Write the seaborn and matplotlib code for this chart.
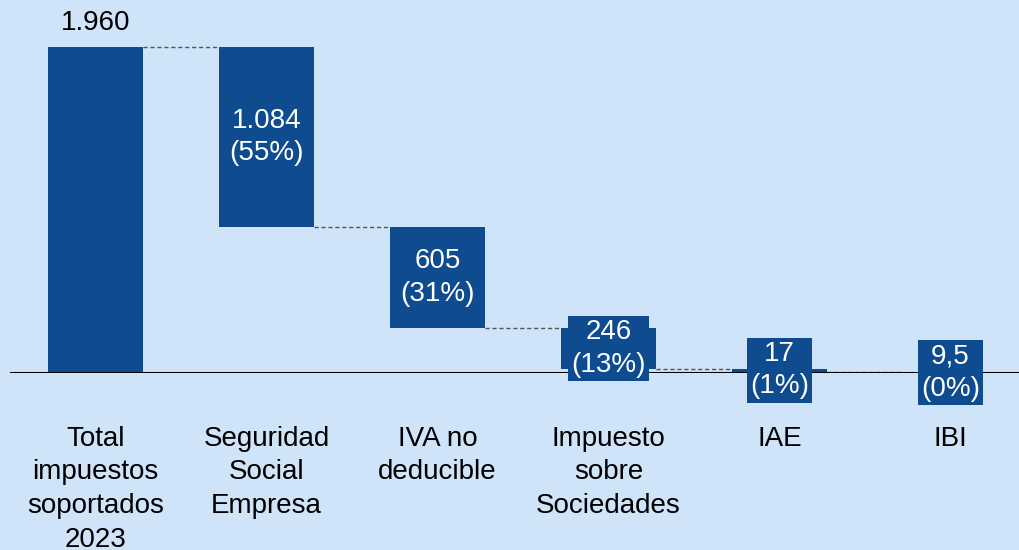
import numpy as np
import pandas as pd
import matplotlib
matplotlib.use("Agg")
import matplotlib.pyplot as plt
import seaborn as sns

sns.set_theme(style="white")
plt.rcParams['font.family'] = ['Liberation Sans', 'DejaVu Sans']

# datos
categorias = ["Total\nimpuestos\nsoportados\n2023", "Seguridad\nSocial\nEmpresa",
              "IVA no\ndeducible", "Impuesto\nsobre\nSociedades", "IAE", "IBI"]
valores = [1960, 1084, 605, 246, 17, 9.5]
etiquetas = ["1.960", "1.084\n(55%)", "605\n(31%)", "246\n(13%)", "17\n(1%)", "9,5\n(0%)"]

azul = "#0f4b8f"
fondo = "#cfe4f8"

# base de cada barra (cascada)
bases = [0]
acum = valores[0]
for v in valores[1:]:
    acum = acum - v
    bases.append(acum)
df = pd.DataFrame({"cat": categorias, "valor": valores, "base": bases})

fig = plt.figure(figsize=(10.2, 5.5), dpi=100)
fig.patch.set_facecolor(fondo)
ax = fig.add_axes([10 / 1020, 177 / 550, 1010 / 1020, 373 / 550])
ax.set_facecolor(fondo)

sns.barplot(data=df, x="cat", y="valor", order=categorias, color=azul,
            saturation=1, width=0.556, bottom=df["base"].values, ax=ax, zorder=2,
            edgecolor=azul, linewidth=0)

ax.set_xlim(-0.5, 5.406)
ax.set_ylim(0, 2243)
ax.axhline(0, color="black", lw=1.5, zorder=3)

# conectores
w = 0.556 / 2
niveles = [valores[0]] + bases[1:]
for i in range(len(valores) - 1):
    ax.plot([i + w, i + 1 - w], [niveles[i], niveles[i]], ls=(0, (3, 2)),
            color="#555555", lw=1, zorder=1)

# etiquetas
ax.annotate(etiquetas[0], (0, valores[0]), xytext=(0, 8), textcoords="offset points",
            ha="center", va="bottom", fontsize=20, color="black")
for i in range(1, len(valores)):
    ax.text(i, bases[i] + valores[i] / 2, etiquetas[i], ha="center", va="center",
            fontsize=20, color="white", linespacing=1.32, zorder=4,
            bbox=dict(boxstyle="square,pad=0.12", fc=azul, ec="none"))

ax.set_xlabel("")
ax.set_ylabel("")
ax.set_yticks([])
ax.set_xticks(range(len(categorias)), labels=categorias, linespacing=1.38,
              color="black", fontsize=20)
ax.tick_params(axis="x", length=0, pad=38)
for s in ax.spines.values():
    s.set_visible(False)

fig.savefig("out.png", dpi=100, facecolor=fondo)
